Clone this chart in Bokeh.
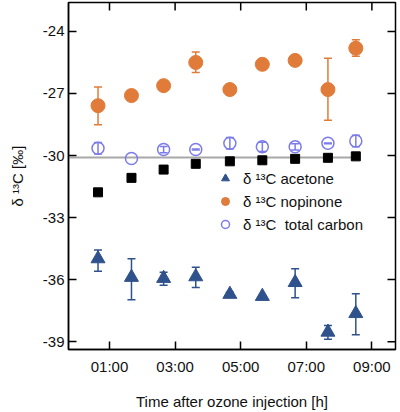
from bokeh.plotting import figure
from bokeh.models import (ColumnDataSource, Whisker, TeeHead, FixedTicker,
                          Legend, LegendItem, Range1d)
from bokeh.embed import file_html
from bokeh.resources import INLINE
import numpy as np

# ---- data ----
times = [0.65, 1.67, 2.65, 3.63, 4.67, 5.66, 6.66, 7.66, 8.51]

acetone = [-34.99, -35.89, -35.94, -35.86, -36.71, -36.81, -36.14, -38.54, -37.64]
acetone_upper = [-34.57, -34.99, -35.65, -35.40, -36.61, -36.81, -35.48, -38.22, -36.69]
acetone_lower = [-35.60, -36.97, -36.27, -36.38, -36.81, -36.81, -36.88, -38.88, -38.67]

nopinone = [-27.59, -27.10, -26.62, -25.50, -26.81, -25.59, -25.40, -26.81, -24.81]
nopinone_upper = [-26.69, -27.10, -26.62, -24.99, -26.81, -25.59, -25.40, -25.29, -24.40]
nopinone_lower = [-28.51, -27.10, -26.62, -25.99, -26.81, -25.59, -25.40, -28.29, -25.20]

total_carbon = [-29.65, -30.14, -29.71, -29.71, -29.41, -29.58, -29.58, -29.41, -29.30]
total_carbon_err = [0.28, None, 0.15, 0.02, 0.28, 0.22, 0.15, 0.02, 0.28]

calculated = [-31.78, -31.08, -30.68, -30.40, -30.28, -30.23, -30.16, -30.11, -30.04]

ref_line_x = [-0.25, 8.51]
ref_line_y = [-30.1, -30.1]

x_ticks = [1, 3, 5, 7, 9]
x_tick_labels = ["01:00", "03:00", "05:00", "07:00", "09:00"]
y_ticks = [-39, -36, -33, -30, -27, -24]
y_tick_labels = ["-39", "-36", "-33", "-30", "-27", "-24"]
x_lim = (-0.25, 9.72)
y_lim = (-39.38, -22.6)

legend_labels = ["δ ¹³C acetone", "δ ¹³C nopinone", "δ ¹³C  total carbon"]

# ---- style ----
ORANGE = "#E07B3A"
NAVY = "#2F528C"
LILAC = "#7B7BEA"
FONT = "Liberation Sans"

p = figure(width=400, height=412, output_backend="svg", toolbar_location=None,
           x_range=Range1d(*x_lim), y_range=Range1d(*y_lim),
           min_border_left=68, min_border_right=5, min_border_top=2, min_border_bottom=59)
p.background_fill_color = "white"
p.border_fill_color = "white"
p.outline_line_color = "black"
p.outline_line_width = 1.5
p.xgrid.visible = False
p.ygrid.visible = False

for ax in p.xaxis + p.yaxis:
    ax.axis_line_width = 1.5
    ax.major_tick_in = 8
    ax.major_tick_out = 0
    ax.major_tick_line_width = 1.5
    ax.minor_tick_line_color = None
    ax.major_label_text_font = FONT
    ax.major_label_text_font_size = "15px"
    ax.major_label_text_color = "#111111"
    ax.axis_label_text_font = FONT
    ax.axis_label_text_font_size = "15px"
    ax.axis_label_text_font_style = "normal"
    ax.axis_label_text_color = "#111111"

p.xaxis.ticker = FixedTicker(ticks=x_ticks)
p.xaxis.major_label_overrides = {t: l for t, l in zip(x_ticks, x_tick_labels)}
p.xaxis.major_label_standoff = 8
p.xaxis.axis_label = "Time after ozone injection [h]"
p.xaxis.axis_label_standoff = 15

p.yaxis.ticker = FixedTicker(ticks=y_ticks)
p.yaxis.major_label_overrides = {t: l for t, l in zip(y_ticks, y_tick_labels)}
p.yaxis.major_label_standoff = 4
p.yaxis.axis_label = "δ ¹³C [‰]"
p.yaxis.axis_label_standoff = 14

# mirrored inward ticks on top and right (dash markers centred on the frame edge, half clipped)
p.scatter(x_ticks, [y_lim[1]] * len(x_ticks), marker="dash", size=16, angle=np.pi / 2,
          line_color="black", line_width=1.5)
p.scatter([x_lim[1]] * len(y_ticks), y_ticks, marker="dash", size=16,
          line_color="black", line_width=1.5)

# reference line
p.line(ref_line_x, ref_line_y, line_color="#A8A8A8", line_width=2)

# error bars
def add_whisker(x, upper, lower, color):
    src = ColumnDataSource(dict(x=x, upper=upper, lower=lower))
    w = Whisker(source=src, base="x", upper="upper", lower="lower",
                line_color=color, line_width=1.5,
                upper_head=TeeHead(size=8, line_color=color, line_width=1.5),
                lower_head=TeeHead(size=8, line_color=color, line_width=1.5))
    p.add_layout(w)

add_whisker(times, acetone_upper, acetone_lower, NAVY)
add_whisker(times, nopinone_upper, nopinone_lower, ORANGE)
tc_x = [t for t, e in zip(times, total_carbon_err) if e is not None]
tc_up = [v + e for v, e in zip(total_carbon, total_carbon_err) if e is not None]
tc_lo = [v - e for v, e in zip(total_carbon, total_carbon_err) if e is not None]
add_whisker(tc_x, tc_up, tc_lo, LILAC)

# markers
p.scatter(times, calculated, marker="square", size=9, fill_color="black", line_color="black")
r_tc = p.scatter(times, total_carbon, marker="circle", size=12, fill_color=None,
                 line_color=LILAC, line_width=1.5)
r_no = p.scatter(times, nopinone, marker="circle", size=14, fill_color=ORANGE, line_color=ORANGE)
r_ac = p.scatter(times, acetone, marker="triangle", size=14, fill_color=NAVY, line_color=NAVY)

legend = Legend(items=[LegendItem(label=legend_labels[0], renderers=[r_ac]),
                       LegendItem(label=legend_labels[1], renderers=[r_no]),
                       LegendItem(label=legend_labels[2], renderers=[r_tc])],
                location=(147, 115), orientation="vertical",
                glyph_width=20, glyph_height=20, label_height=20, spacing=3,
                label_standoff=8, padding=0, margin=0,
                border_line_color=None, background_fill_alpha=0,
                label_text_font=FONT, label_text_font_size="15px",
                label_text_color="#111111")
p.add_layout(legend, "center")

open("out.html", "w").write(file_html(p, INLINE))
